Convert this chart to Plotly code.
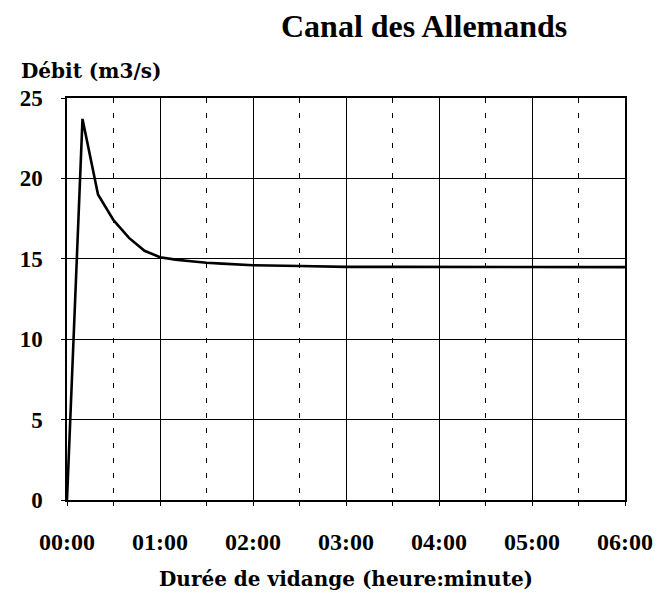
import plotly.graph_objects as go

# Data: time in minutes since start, discharge in m3/s
time_min = [0, 10, 20, 30, 40, 50, 60, 70, 80, 90, 100, 110, 120, 150, 180, 210, 240, 270, 300, 330, 360]
debit = [0.0, 23.7, 19.0, 17.4, 16.3, 15.5, 15.1, 14.95, 14.85, 14.75, 14.7, 14.65, 14.6, 14.55, 14.5, 14.5, 14.5, 14.5, 14.5, 14.48, 14.48]

x_tickvals = [0, 60, 120, 180, 240, 300, 360]
x_ticktext = ["00:00", "01:00", "02:00", "03:00", "04:00", "05:00", "06:00"]
y_tickvals = [0, 5, 10, 15, 20, 25]

title_text = "Canal des Allemands"
y_title = "Débit (m3/s)"
x_title = "Durée de vidange (heure:minute)"

# The page body has an 8px margin, so the figure is drawn 8px right/down in the window.
OFF = 8
WIN_W, WIN_H = 665, 606
W, H = WIN_W - OFF, WIN_H - OFF
# plot area in window pixels: x 55..631, y 98..500
PL, PR, PT, PB = 55, 631, 98, 500
L, R, T, B = PL - OFF, W - (PR - OFF), PT - OFF, H - (PB - OFF)
plot_w = PR - PL
plot_h = PB - PT


def px_x(x):  # window pixel -> paper x
    return (x - PL) / plot_w


def px_y(y):  # window pixel -> paper y
    return (PB - y) / plot_h


fig = go.Figure()
fig.add_trace(go.Scatter(x=time_min, y=debit, mode="lines",
                         line=dict(color="black", width=2.6), showlegend=False))

fig.update_layout(
    width=W, height=H,
    margin=dict(l=L, r=R, t=T, b=B, pad=0),
    paper_bgcolor="white", plot_bgcolor="white",
    showlegend=False,
)

fig.update_xaxes(
    range=[0, 360], tickvals=x_tickvals, ticktext=x_ticktext,
    showgrid=True, gridcolor="black", gridwidth=1,
    showline=True, linecolor="black", linewidth=1.5, mirror=True,
    ticks="outside", ticklen=4, tickcolor="black", tickwidth=1,
    ticklabelstandoff=15, ticklabeloverflow="allow",
    tickfont=dict(family="Liberation Serif", size=24, color="black", weight="bold"),
    minor=dict(dtick=30, tick0=0, showgrid=True, gridcolor="black", gridwidth=1.2,
               griddash="5px,10px", ticks="outside", ticklen=4, tickcolor="black"),
    zeroline=False,
)
fig.update_yaxes(
    range=[0, 25], tickvals=y_tickvals,
    showgrid=True, gridcolor="black", gridwidth=1.2,
    showline=True, linecolor="black", linewidth=1.5, mirror=True,
    ticks="outside", ticklen=4, tickcolor="black", tickwidth=1,
    ticklabelstandoff=14,
    tickfont=dict(family="Liberation Serif", size=23, color="black", weight="bold"),
    zeroline=False,
)

fig.add_annotation(
    text=title_text, xref="paper", yref="paper",
    x=px_x(274), y=px_y(26), xanchor="left", yanchor="middle",
    showarrow=False,
    font=dict(family="Liberation Serif", size=32, color="black", weight="bold"),
)
fig.add_annotation(
    text=y_title, xref="paper", yref="paper",
    x=px_x(5), y=px_y(71), xanchor="left", yanchor="middle",
    showarrow=False,
    font=dict(family="DejaVu Serif", size=20, color="black", weight="bold"),
)
fig.add_annotation(
    text=x_title, xref="paper", yref="paper",
    x=0.5, y=px_y(579), xanchor="center", yanchor="middle",
    showarrow=False,
    font=dict(family="DejaVu Serif", size=20, color="black", weight="bold"),
)

fig.write_html("out.html")
